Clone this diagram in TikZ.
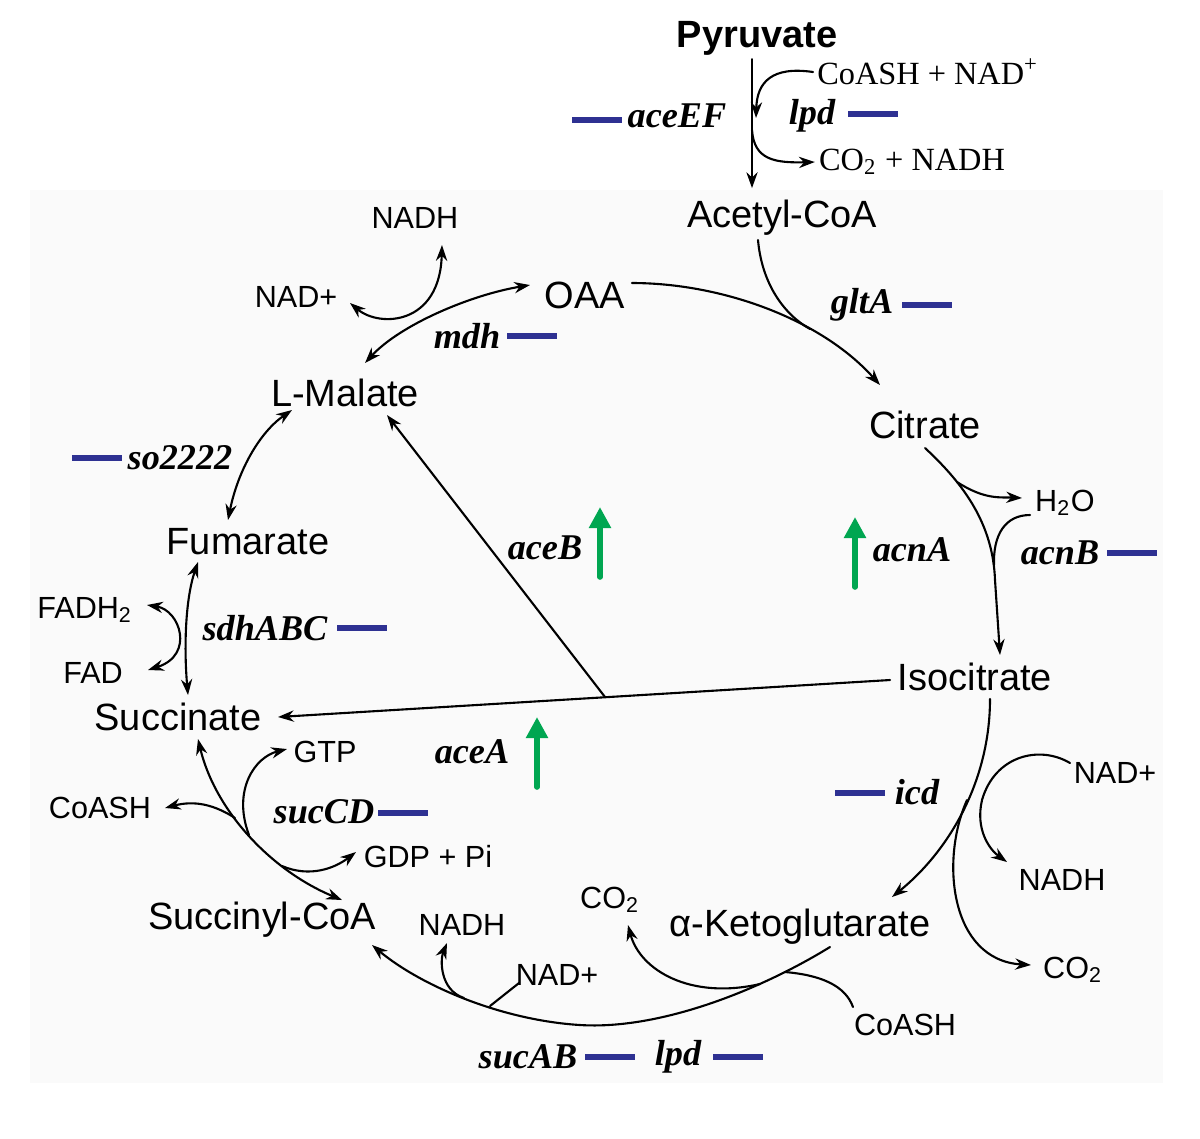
\documentclass[tikz,border=0pt]{standalone}
\usepackage{fontspec}
\setmainfont{Liberation Sans}
\newfontfamily\tnr{Liberation Serif}
\usetikzlibrary{arrows.meta,calc}
\definecolor{dnblue}{RGB}{46,49,146}
\definecolor{upgreen}{RGB}{0,166,81}
\begin{document}
\begin{tikzpicture}[x=0.01cm,y=-0.01cm,line join=round,line cap=round,>={Stealth[length=4.5pt,width=3.2pt]}]
\tikzset{every node/.style={inner sep=1pt},
  met/.style={font=\fontsize{10.8}{13}\selectfont},
  cof/.style={font=\fontsize{8.7}{10}\selectfont},
  tcof/.style={font=\tnr\fontsize{9.2}{11}\selectfont},
  gene/.style={font=\tnr\bfseries\itshape\fontsize{10.3}{12}\selectfont},
  rxn/.style={line width=0.6pt},
  downbar/.style={dnblue,line width=1.5pt,line cap=butt},
  upbar/.style={upgreen,line width=1.6pt,-{Triangle[width=6pt,length=6pt]}}}
\useasboundingbox (0,0) rectangle (1200,1138);
\fill[black!2] (30,190) rectangle (1163,1083);
% metabolites and cofactors
\node[font=\bfseries\fontsize{10.8}{13}\selectfont] (pyr) at (757,38) {Pyruvate};
\node[met] (acoa) at (782,218) {Acetyl-CoA};
\node[tcof] (coanad) at (928,72) {CoASH + NAD\textsuperscript{+}};
\node[tcof] (co2nadh) at (912,162) {CO\textsubscript{2} + NADH};
\node[gene] (aceEF) at (677,116) {aceEF};
\node[gene] (lpdtop) at (812,116) {lpd};
\node[met] (oaa) at (585,295) {OAA};
\node[cof] (nadhmdh) at (415,218) {NADH};
\node[cof] (nadmdh) at (296,297) {NAD+};
\node[gene] (mdh) at (467,336) {mdh};
\node[met] (mal) at (345,393) {L-Malate};
\node[met] (cit) at (925,425) {Citrate};
\node[gene] (gltA) at (862,305) {gltA};
\node[gene] (so) at (180,458) {so2222};
\node[met] (fum) at (248,542) {Fumarate};
\node[gene] (aceB) at (545,548) {aceB};
\node[gene] (acnA) at (912,550) {acnA};
\node[cof] (water) at (1065,503) {H\textsubscript{2}O};
\node[gene] (acnB) at (1060,553) {acnB};
\node[cof] (fadh) at (85,610) {FADH\textsubscript{2}};
\node[cof] (fad) at (93,673) {FAD};
\node[gene] (sdh) at (265,628) {sdhABC};
\node[met] (suc) at (178,717) {Succinate};
\node[met] (icit) at (975,677) {Isocitrate};
\node[cof] (gtp) at (325,752) {GTP};
\node[gene] (aceA) at (472,752) {aceA};
\node[cof] (coasuc) at (100,808) {CoASH};
\node[gene] (sucCD) at (324,812) {sucCD};
\node[gene] (icd) at (917,792) {icd};
\node[cof] (nadicd) at (1115,773) {NAD+};
\node[cof] (gdp) at (428,857) {GDP + Pi};
\node[cof] (nadhicd) at (1062,880) {NADH};
\node[cof] (co2kg) at (610,900) {CO\textsubscript{2}};
\node[met] (sca) at (262,920) {Succinyl-CoA};
\node[cof] (nadhkg) at (462,925) {NADH};
\node[met] (akg) at (800,927) {α-Ketoglutarate};
\node[cof] (co2icd) at (1073,970) {CO\textsubscript{2}};
\node[cof] (nadkg) at (557,975) {NAD+};
\node[cof] (coakg) at (905,1025) {CoASH};
\node[gene] (sucAB) at (528,1057) {sucAB};
\node[gene] (lpdbot) at (678,1057) {lpd};
% gene marks
\foreach \x/\y in {572/120,848/114,902/305,507/336,72/458,1107/553,337/628,378/813,835/793,585/1057,713/1057}
  \draw[downbar] (\x,\y) -- ++(50,0);
\foreach \x/\y in {600/577,855/587,537/787}
  \draw[upbar] (\x,\y) -- ++(0,-70);
% pyruvate dehydrogenase
\coordinate (pdhin) at (756,118);
\coordinate (pdhout) at (752,130);
\draw[rxn,->] (pyr.south -| pdhout) -- ($(acoa.north -| pdhout)+(0,-8)$);
\draw[rxn,->] (coanad.west) .. controls (772,66) and (757,82) .. (pdhin);
\draw[rxn,->] (pdhout) .. controls (754,160) and (775,163) .. (co2nadh.west);
% cycle
\coordinate (gltj) at (810,329);
\draw[rxn,->] ($(oaa)+(47,-12)$) .. controls (720,283) and (820,318) .. ($(cit)+(-45,-40)$);
\draw[rxn] ($(acoa)+(-24,22)$) .. controls (762,285) and (785,315) .. (gltj);
\coordinate (h2oa) at (957,482);
\draw[rxn,->] ($(cit)+(0,23)$) .. controls (965,485) and (993,525) .. (995,580) -- ($(icit)+(25,-22)$);
\draw[rxn,->] (h2oa) .. controls (985,500) and (1000,497) .. ($(water)+(-43,-5)$);
\draw[rxn] ($(water)+(-35,12)$) .. controls (1005,515) and (993,535) .. (994,565);
\coordinate (icdco2) at (967,800);
\draw[rxn,->] ($(icit)+(15,22)$) .. controls (990,780) and (950,850) .. ($(akg)+(92,-30)$);
\draw[rxn,->] ($(nadicd)+(-45,-10)$) .. controls (1040,745) and (995,755) .. (982,800) .. controls (975,830) and (990,850) .. ($(nadhicd)+(-55,-18)$);
\draw[rxn,->] (icdco2) .. controls (940,860) and (950,960) .. ($(co2icd)+(-42,-5)$);
\coordinate (kgco2) at (760,984);
\coordinate (kgcoa) at (785,972);
\coordinate (kgnad) at (490,1006);
\coordinate (kgnadh) at (464,998);
\draw[rxn,->] ($(akg)+(30,20)$) .. controls (760,990) and (660,1030) .. (580,1025) .. controls (500,1020) and (420,985) .. ($(sca)+(110,25)$);
\draw[rxn,->] (kgco2) .. controls (690,1000) and (640,970) .. ($(co2kg)+(18,25)$);
\draw[rxn] ($(coakg)+(-52,-18)$) .. controls (845,985) and (820,975) .. (kgcoa);
\draw[rxn] ($(nadkg)+(-38,8)$) -- (kgnad);
\draw[rxn,->] (kgnadh) .. controls (440,990) and (440,960) .. ($(nadhkg)+(-15,18)$);
\coordinate (sgtp) at (249,835);
\coordinate (sgdp) at (282,866);
\coordinate (scoa) at (235,818);
\draw[rxn,<->] ($(sca)+(80,-20)$) .. controls (270,870) and (215,810) .. ($(suc)+(20,22)$);
\draw[rxn,->] (sgtp) .. controls (232,790) and (255,757) .. ($(gtp)+(-38,-3)$);
\draw[rxn,->] (sgdp) .. controls (310,878) and (335,868) .. ($(gdp)+(-72,-5)$);
\draw[rxn,->] (scoa) .. controls (215,805) and (195,800) .. ($(coasuc)+(65,0)$);
\draw[rxn,<->] ($(suc)+(10,-22)$) .. controls (184,650) and (185,600) .. ($(fum)+(-50,20)$);
\draw[rxn,<->] ($(fadh)+(62,-5)$) .. controls (180,610) and (195,655) .. ($(fad)+(55,-3)$);
\draw[rxn,<->] ($(fum)+(-20,-22)$) .. controls (238,470) and (260,432) .. ($(mal)+(-53,17)$);
\draw[rxn,<->] ($(mal)+(20,-30)$) .. controls (400,325) and (470,295) .. ($(oaa)+(-55,-10)$);
\draw[rxn,<->] ($(nadmdh)+(54,6)$) .. controls (380,328) and (440,325) .. ($(nadhmdh)+(27,27)$);
% glyoxylate shunt
\coordinate (shunt) at (605,697);
\draw[rxn,->] ($(icit)+(-85,3)$) -- ($(suc)+(100,0)$);
\draw[rxn,->] (shunt) -- ($(mal)+(42,22)$);
\end{tikzpicture}
\end{document}
